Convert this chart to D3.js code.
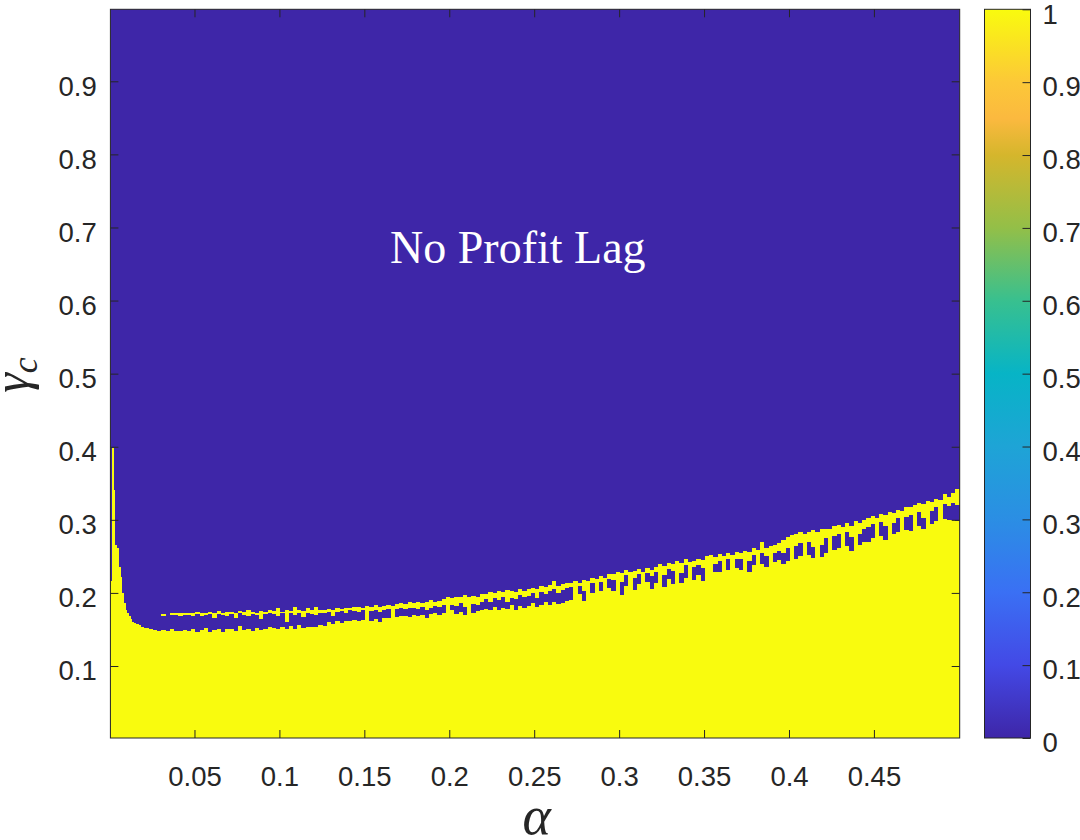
<!DOCTYPE html>
<html>
<head>
<meta charset="utf-8">
<script src="https://cdn.jsdelivr.net/npm/d3@7"></script>
<style>
  body { margin: 0; background: #fff; }
  svg { display: block; }
</style>
</head>
<body>
<script>
// ---- data ----
// near alpha = 0 the boundary is read on a finer alpha grid
var spikeAlpha = [0.001, 0.002, 0.003, 0.004, 0.005, 0.006, 0.007, 0.008, 0.009, 0.010,
                  0.011, 0.012, 0.013, 0.014, 0.015, 0.016, 0.017, 0.018, 0.019, 0.020];
var spikeTop = [0.216, 0.398, 0.341, 0.266, 0.262, 0.236, 0.222, 0.200, 0.186, 0.177,
                0.172, 0.168, 0.164, 0.160, 0.159, 0.158, 0.157, 0.156, 0.154, 0.153];

// after that: columns of width 0.0025 starting at alpha = 0.0205
var alphaStart = 0.0205;
var alphaStep = 0.0025;
// top of the yellow region (value 1) in each column
var bandTop = [
  0.152,0.150,0.149,0.148,0.171,0.148,0.173,0.173,0.172,0.173,
  0.173,0.173,0.174,0.172,0.173,0.174,0.173,0.175,0.173,0.174,
  0.174,0.173,0.175,0.174,0.176,0.174,0.173,0.175,0.174,0.176,
  0.175,0.180,0.174,0.176,0.175,0.181,0.176,0.175,0.180,0.177,
  0.181,0.177,0.176,0.178,0.177,0.179,0.178,0.180,0.179,0.181,
  0.181,0.180,0.182,0.181,0.183,0.181,0.182,0.184,0.182,0.185,
  0.186,0.185,0.187,0.186,0.188,0.186,0.187,0.190,0.188,0.189,
  0.192,0.194,0.193,0.195,0.194,0.197,0.195,0.196,0.194,0.199,
  0.198,0.201,0.200,0.203,0.201,0.204,0.202,0.201,0.206,0.203,
  0.205,0.207,0.206,0.209,0.208,0.211,0.216,0.210,0.212,0.214,
  0.214,0.216,0.213,0.218,0.216,0.221,0.219,0.223,0.220,0.226,
  0.226,0.229,0.227,0.231,0.228,0.230,0.233,0.229,0.234,0.232,
  0.236,0.239,0.237,0.241,0.240,0.243,0.241,0.246,0.242,0.244,
  0.247,0.245,0.250,0.252,0.249,0.253,0.251,0.255,0.252,0.256,
  0.254,0.258,0.256,0.262,0.259,0.270,0.261,0.264,0.266,0.268,
  0.272,0.276,0.279,0.281,0.283,0.280,0.284,0.286,0.283,0.287,
  0.288,0.287,0.291,0.293,0.290,0.295,0.292,0.298,0.296,0.300,
  0.302,0.305,0.303,0.308,0.306,0.311,0.309,0.314,0.312,0.317,
  0.318,0.320,0.323,0.321,0.326,0.324,0.329,0.327,0.335,0.331,
  0.337,0.342
];
// blue pockets (value 0) inside the ragged band, 0 = none
var holeTop = [
  0,0,0,0,0.169,0,0.170,0.170,0.169,0.170,
  0.170,0.169,0.171,0.168,0.170,0.171,0.165,0.171,0.170,0.168,
  0.171,0.166,0.172,0.170,0.168,0.171,0.170,0.164,0.171,0.172,
  0.171,0.168,0.172,0.160,0.172,0.170,0.172,0.167,0.173,0.171,
  0.170,0.173,0.172,0.174,0.168,0.174,0.175,0.172,0.176,0.175,
  0.174,0.176,0,0.175,0.177,0.174,0.176,0.178,0,0.178,
  0.179,0.178,0.180,0.179,0.178,0.181,0.176,0.180,0.182,0.181,
  0.183,0,0.184,0.182,0.186,0.181,0,0.185,0.184,0.187,
  0.191,0.188,0.193,0.190,0.194,0.187,0.193,0.192,0.197,0.194,
  0.196,0.200,0.193,0.201,0.199,0.203,0.206,0.200,0.204,0.207,
  0.208,0,0.209,0.202,0,0.214,0,0.215,0,0.219,
  0.218,0,0.215,0.224,0,0.221,0.226,0,0.227,0.223,
  0.229,0,0.225,0.233,0.230,0,0.227,0.238,0,0.235,
  0.238,0.234,0,0,0.240,0.244,0,0.246,0,0.247,
  0.246,0,0.243,0.252,0,0.255,0.251,0,0.254,0.258,
  0.255,0.262,0,0.264,0.268,0,0.270,0.263,0,0.266,
  0.275,0,0.278,0.280,0,0.283,0.276,0,0.281,0.287,
  0.290,0.294,0,0.297,0.292,0,0.295,0.302,0,0.304,
  0.306,0,0.311,0.303,0,0.312,0.318,0,0.321,0.319,
  0.323,0.320
];
var holeBot = [
  0,0,0,0,0.149,0,0.150,0.148,0.148,0.149,
  0.148,0.150,0.147,0.149,0.152,0.147,0.149,0.150,0.147,0.151,
  0.150,0.148,0.155,0.149,0.151,0.148,0.152,0.149,0.150,0.153,
  0.152,0.150,0.153,0.150,0.155,0.151,0.156,0.152,0.154,0.153,
  0.154,0.156,0.155,0.160,0.157,0.161,0.159,0.162,0.161,0.163,
  0.161,0.163,0,0.162,0.164,0.160,0.165,0.166,0,0.167,
  0.168,0.169,0.167,0.170,0.168,0.170,0.166,0.171,0.172,0.170,
  0.173,0,0.176,0.171,0.174,0.170,0,0.173,0.175,0.176,
  0.178,0.177,0.181,0.176,0.180,0.178,0.183,0.177,0.182,0.179,
  0.182,0.186,0.181,0.184,0.187,0.183,0.188,0.185,0.186,0.189,
  0.190,0,0.198,0.189,0,0.200,0,0.203,0,0.207,
  0.203,0,0.197,0.210,0,0.204,0.212,0,0.215,0.206,
  0.214,0,0.208,0.219,0.212,0,0.213,0.221,0,0.217,
  0.225,0.216,0,0,0.228,0.229,0,0.232,0,0.234,
  0.232,0,0.228,0.238,0,0.240,0.236,0,0.242,0.245,
  0.240,0.244,0,0.246,0.250,0,0.252,0.248,0,0.249,
  0.255,0,0.259,0.262,0,0.264,0.257,0,0.266,0.270,
  0.270,0.275,0,0.278,0.273,0,0.280,0.284,0,0.286,
  0.285,0,0.292,0.287,0,0.294,0.298,0,0.301,0.300,
  0.300,0.298
];

var xTicks = [0.05, 0.1, 0.15, 0.2, 0.25, 0.3, 0.35, 0.4, 0.45];
var yTicks = [0.1, 0.2, 0.3, 0.4, 0.5, 0.6, 0.7, 0.8, 0.9];
var cTicks = [0, 0.1, 0.2, 0.3, 0.4, 0.5, 0.6, 0.7, 0.8, 0.9, 1];

// parula colormap stops
var parulaPos = [0, 0.1, 0.2, 0.3, 0.4, 0.5, 0.6, 0.7, 0.8, 0.85, 0.9, 1];
var parulaCol = ['#3e26a8', '#4349e6', '#3a70f4', '#2b8ee4', '#1ea4d6', '#07b4c6',
                 '#38c08f', '#93bf48', '#d5b62c', '#fbb93f', '#fcc838', '#f9fb0e'];

// ---- layout ----
var screen = { width: 1080, height: 840 };
var plot = { left: 110.4, top: 9.3, right: 959.7, bottom: 738 };
var cbar = { left: 984.5, right: 1030.5 };
var ink = '#262626';
var tickFont = '"Liberation Sans", Arial, Helvetica, sans-serif';
var mathFont = '"Liberation Serif", "Times New Roman", serif';

var svg = d3.select('body').append('svg')
            .attr('width', screen.width)
            .attr('height', screen.height);

var xScale = d3.scaleLinear().domain([0.0005, 0.5005]).range([plot.left, plot.right]);
var yScale = d3.scaleLinear().domain([0.0015, 0.9985]).range([plot.bottom, plot.top]);
var color = d3.scaleLinear().domain(parulaPos).range(parulaCol);

var cells = [];
spikeAlpha.forEach(function(a, i){
  cells.push({ a0: a - 0.0005, a1: a + 0.0005, g0: yScale.domain()[0], g1: spikeTop[i], v: 1 });
});
bandTop.forEach(function(t, j){
  var a0 = alphaStart + j * alphaStep;
  cells.push({ a0: a0, a1: a0 + alphaStep, g0: yScale.domain()[0], g1: t, v: 1 });
  if (holeTop[j] > 0){
    cells.push({ a0: a0, a1: a0 + alphaStep, g0: holeBot[j], g1: holeTop[j], v: 0 });
  }
});

svg.append('clipPath').attr('id', 'plotclip')
   .append('rect')
   .attr('x', plot.left).attr('y', plot.top)
   .attr('width', plot.right - plot.left)
   .attr('height', plot.bottom - plot.top);

var map = svg.append('g')
             .attr('clip-path', 'url(#plotclip)')
             .attr('shape-rendering', 'crispEdges');

// whole field is 0 unless painted
map.append('rect')
   .attr('x', plot.left).attr('y', plot.top)
   .attr('width', plot.right - plot.left)
   .attr('height', plot.bottom - plot.top)
   .attr('fill', color(0));

map.selectAll('rect.cell')
   .data(cells)
   .enter()
   .append('rect')
   .classed('cell', true)
   .attr('x', function(d){ return xScale(d.a0); })
   .attr('width', function(d){ return xScale(d.a1) - xScale(d.a0); })
   .attr('y', function(d){ return yScale(d.g1); })
   .attr('height', function(d){ return yScale(d.g0) - yScale(d.g1); })
   .attr('fill', function(d){ return color(d.v); });

// frame + ticks on all four sides
svg.append('rect')
   .attr('x', plot.left).attr('y', plot.top)
   .attr('width', plot.right - plot.left)
   .attr('height', plot.bottom - plot.top)
   .attr('fill', 'none').attr('stroke', ink).attr('stroke-width', 1);

var styleAxis = function(g){
  g.select('.domain').remove();
  g.attr('font-family', tickFont).attr('font-size', 27.5).attr('color', ink);
  g.selectAll('text').attr('fill', ink);
};

svg.append('g')
   .attr('transform', 'translate(0,' + plot.bottom + ')')
   .call(d3.axisBottom(xScale).tickValues(xTicks).tickSizeInner(-8).tickSizeOuter(0)
         .tickPadding(28).tickFormat(d3.format('')))
   .call(styleAxis);
svg.append('g')
   .attr('transform', 'translate(0,' + plot.top + ')')
   .call(d3.axisTop(xScale).tickValues(xTicks).tickSizeInner(-8).tickSizeOuter(0).tickFormat(''))
   .call(styleAxis);
var yAxis = svg.append('g')
   .attr('transform', 'translate(' + plot.left + ',0)')
   .call(d3.axisLeft(yScale).tickValues(yTicks).tickSizeInner(-8).tickSizeOuter(0)
         .tickPadding(13.7).tickFormat(d3.format('')))
   .call(styleAxis);
yAxis.selectAll('text').attr('dy', '0.5em');
svg.append('g')
   .attr('transform', 'translate(' + plot.right + ',0)')
   .call(d3.axisRight(yScale).tickValues(yTicks).tickSizeInner(-8).tickSizeOuter(0).tickFormat(''))
   .call(styleAxis);

// colorbar
var cScale = d3.scaleLinear().domain([0, 1]).range([plot.bottom, plot.top]);
var grad = svg.append('defs').append('linearGradient')
              .attr('id', 'parula')
              .attr('x1', 0).attr('y1', 1).attr('x2', 0).attr('y2', 0);
grad.selectAll('stop')
    .data(parulaPos)
    .enter()
    .append('stop')
    .attr('offset', function(d){ return d; })
    .attr('stop-color', function(d){ return color(d); });

svg.append('rect')
   .attr('x', cbar.left).attr('y', cScale(1))
   .attr('width', cbar.right - cbar.left)
   .attr('height', cScale(0) - cScale(1))
   .attr('fill', 'url(#parula)')
   .attr('stroke', ink).attr('stroke-width', 1);

var cAxis = svg.append('g')
   .attr('transform', 'translate(' + cbar.right + ',0)')
   .call(d3.axisRight(cScale).tickValues(cTicks).tickSizeInner(-8).tickSizeOuter(0)
         .tickPadding(12).tickFormat(d3.format('')))
   .call(styleAxis);
cAxis.selectAll('text').attr('dy', '0.5em');

// region label
svg.append('text')
   .attr('x', 517.8).attr('y', 263.3)
   .attr('text-anchor', 'middle')
   .attr('font-family', mathFont)
   .attr('font-size', 46)
   .attr('fill', '#ffffff')
   .text('No Profit Lag');

// axis labels
svg.append('text')
   .attr('x', 536.6).attr('y', 834)
   .attr('text-anchor', 'middle')
   .attr('font-family', mathFont)
   .attr('font-style', 'italic')
   .attr('font-size', 54)
   .attr('fill', ink)
   .text('α');

var ylab = svg.append('text')
   .attr('transform', 'translate(28,375) rotate(-90)')
   .attr('text-anchor', 'middle')
   .attr('font-family', mathFont)
   .attr('font-style', 'italic')
   .attr('fill', ink);
ylab.append('tspan').attr('font-size', 50).text('γ');
ylab.append('tspan').attr('font-size', 36).attr('dy', 9).text('c');
</script>
</body>
</html>
